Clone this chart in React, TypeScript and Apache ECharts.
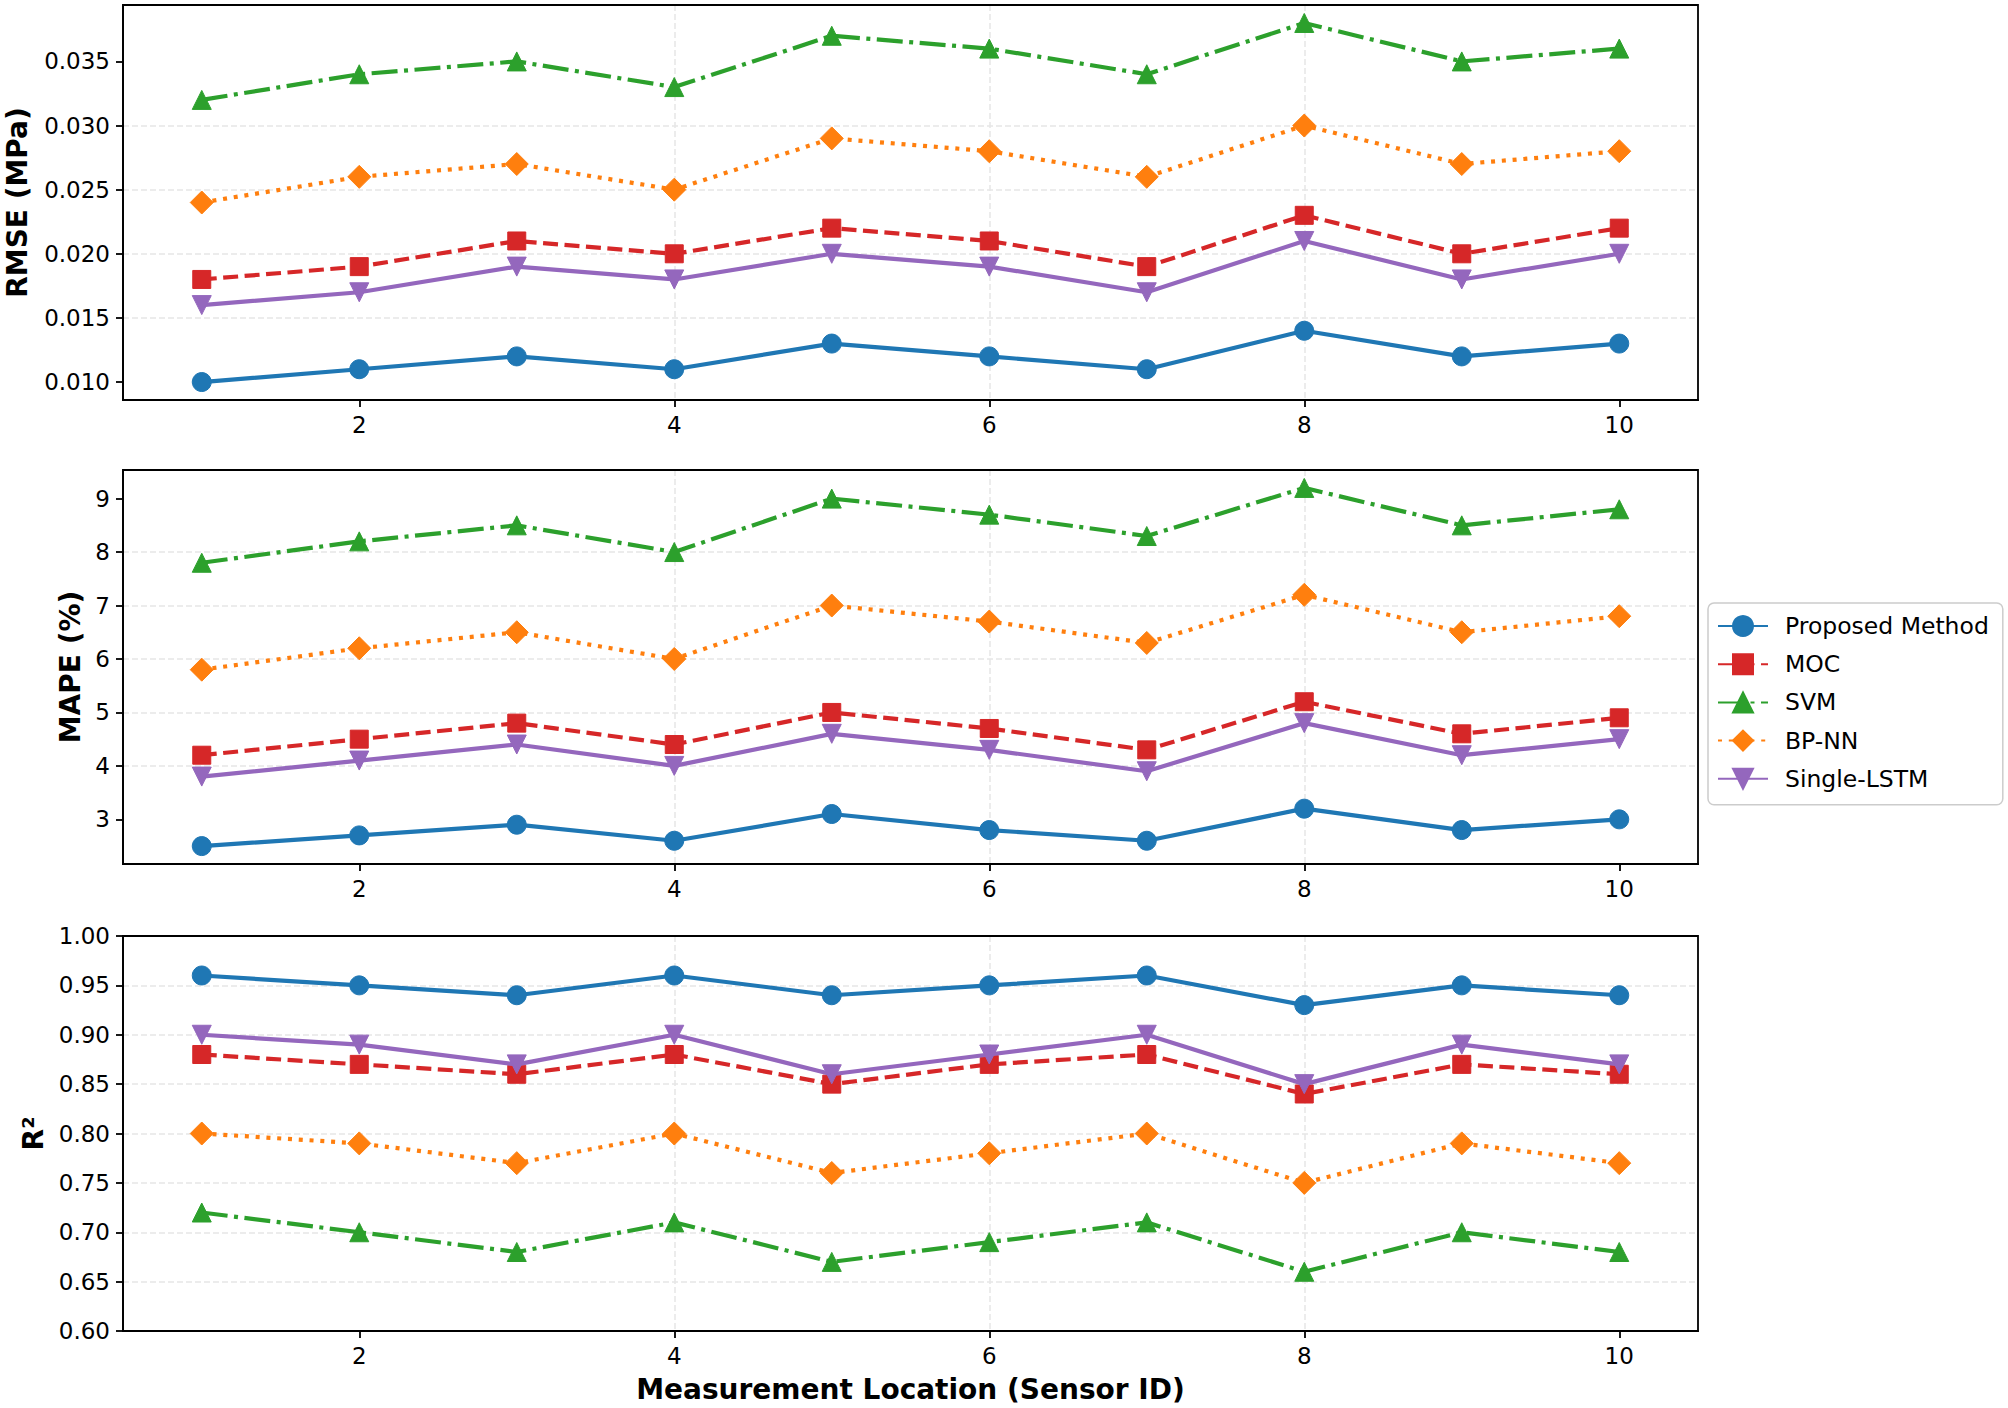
import React, { useEffect, useRef } from "react";
import * as echarts from "echarts";

const sensorIds = [1, 2, 3, 4, 5, 6, 7, 8, 9, 10];
const methods = ["Proposed Method", "MOC", "SVM", "BP-NN", "Single-LSTM"];

const rmseProposed = [0.010, 0.011, 0.012, 0.011, 0.013, 0.012, 0.011, 0.014, 0.012, 0.013];
const rmseMOC = [0.018, 0.019, 0.021, 0.020, 0.022, 0.021, 0.019, 0.023, 0.020, 0.022];
const rmseSVM = [0.032, 0.034, 0.035, 0.033, 0.037, 0.036, 0.034, 0.038, 0.035, 0.036];
const rmseBPNN = [0.024, 0.026, 0.027, 0.025, 0.029, 0.028, 0.026, 0.030, 0.027, 0.028];
const rmseLSTM = [0.016, 0.017, 0.019, 0.018, 0.020, 0.019, 0.017, 0.021, 0.018, 0.020];

const mapeProposed = [2.5, 2.7, 2.9, 2.6, 3.1, 2.8, 2.6, 3.2, 2.8, 3.0];
const mapeMOC = [4.2, 4.5, 4.8, 4.4, 5.0, 4.7, 4.3, 5.2, 4.6, 4.9];
const mapeSVM = [7.8, 8.2, 8.5, 8.0, 9.0, 8.7, 8.3, 9.2, 8.5, 8.8];
const mapeBPNN = [5.8, 6.2, 6.5, 6.0, 7.0, 6.7, 6.3, 7.2, 6.5, 6.8];
const mapeLSTM = [3.8, 4.1, 4.4, 4.0, 4.6, 4.3, 3.9, 4.8, 4.2, 4.5];

const r2Proposed = [0.96, 0.95, 0.94, 0.96, 0.94, 0.95, 0.96, 0.93, 0.95, 0.94];
const r2MOC = [0.88, 0.87, 0.86, 0.88, 0.85, 0.87, 0.88, 0.84, 0.87, 0.86];
const r2SVM = [0.72, 0.70, 0.68, 0.71, 0.67, 0.69, 0.71, 0.66, 0.70, 0.68];
const r2BPNN = [0.80, 0.79, 0.77, 0.80, 0.76, 0.78, 0.80, 0.75, 0.79, 0.77];
const r2LSTM = [0.90, 0.89, 0.87, 0.90, 0.86, 0.88, 0.90, 0.85, 0.89, 0.87];

const xTicks = [2, 4, 6, 8, 10];
const rmseTicks = [0.010, 0.015, 0.020, 0.025, 0.030, 0.035];
const mapeTicks = [3, 4, 5, 6, 7, 8, 9];
const r2Ticks = [0.60, 0.65, 0.70, 0.75, 0.80, 0.85, 0.90, 0.95, 1.00];

const FONT = "DejaVu Sans";

const seriesStyles = [
  { color: "#1f77b4", type: "solid", symbol: "circle", size: 19 },
  { color: "#d62728", type: [15, 6.5], symbol: "rect", size: 18 },
  { color: "#2ca02c", type: [26, 6.5, 4, 6.5], symbol: "triangle", size: 19 },
  { color: "#ff7f0e", type: [4, 6.8], symbol: "diamond", size: 23 },
  { color: "#9467bd", type: "solid", symbol: "path://M0,0L10,0L5,10Z", size: 19 },
];

const grids = [
  { left: 123, top: 5, width: 1575, height: 395 },
  { left: 123, top: 470, width: 1575, height: 394 },
  { left: 123, top: 936, width: 1575, height: 395 },
];

function makeXAxis(gridIndex: number, withName: boolean) {
  return {
    type: "value",
    gridIndex,
    min: 0.5,
    max: 10.5,
    name: withName ? "Measurement Location (Sensor ID)" : "",
    nameLocation: "middle",
    nameGap: 44,
    nameTextStyle: { fontSize: 28, fontWeight: "bold", color: "#000", fontFamily: FONT },
    axisLine: { show: true, onZero: false, lineStyle: { color: "#000", width: 1.8 } },
    axisTick: { show: true, length: 7, customValues: xTicks, lineStyle: { color: "#000", width: 1.8 } },
    axisLabel: { customValues: xTicks, margin: 13, fontSize: 23, color: "#000", fontFamily: FONT },
    splitLine: { show: true, showMinLine: false, showMaxLine: false, lineStyle: { color: "#e6e6e6", width: 1.5, type: [6, 3] } },
  };
}

function makeYAxis(gridIndex: number, name: string, nameGap: number, min: number, max: number, ticks: number[], digits: number) {
  return {
    type: "value",
    gridIndex,
    min,
    max,
    name,
    nameLocation: "middle",
    nameGap,
    nameTextStyle: { fontSize: 28, fontWeight: "bold", color: "#000", fontFamily: FONT },
    axisLine: { show: true, onZero: false, lineStyle: { color: "#000", width: 1.8 } },
    axisTick: { show: true, length: 7, customValues: ticks, lineStyle: { color: "#000", width: 1.8 } },
    axisLabel: {
      customValues: ticks,
      margin: 13,
      fontSize: 23,
      color: "#000",
      fontFamily: FONT,
      formatter: (v: number) => v.toFixed(digits),
    },
    splitLine: { show: true, showMinLine: false, showMaxLine: false, lineStyle: { color: "#e6e6e6", width: 1.5, type: [6, 3] } },
  };
}

function makeSeries(gridIndex: number, values: number[][]) {
  return values.map((vals, i) => {
    const st = seriesStyles[i];
    return {
      name: methods[i],
      type: "line",
      xAxisIndex: gridIndex,
      yAxisIndex: gridIndex,
      data: sensorIds.map((x, k) => [x, vals[k]]),
      symbol: st.symbol,
      symbolSize: st.size,
      showSymbol: true,
      lineStyle: { color: st.color, width: 4.2, type: st.type },
      itemStyle: { color: st.color, borderColor: st.color, borderWidth: 1 },
      z: 3 + i,
      silent: true,
    };
  });
}

export default function App() {
  const ref = useRef<HTMLDivElement>(null);
  useEffect(() => {
    document.body.style.margin = "0";
    const chart = echarts.init(ref.current!, null, { renderer: "svg" });
    const option = {
      animation: false,
      backgroundColor: "#ffffff",
      textStyle: { fontFamily: FONT },
      grid: grids.map((g) => ({
        ...g,
        show: true,
        z: 1,
        outerBoundsMode: "none",
        containLabel: false,
        borderColor: "#000",
        borderWidth: 1.8,
        backgroundColor: "transparent",
      })),
      xAxis: [makeXAxis(0, false), makeXAxis(1, false), makeXAxis(2, true)],
      yAxis: [
        makeYAxis(0, "RMSE (MPa)", 92, 0.0086, 0.0394, rmseTicks, 3),
        makeYAxis(1, "MAPE (%)", 38, 2.165, 9.535, mapeTicks, 0),
        makeYAxis(2, "R²", 74, 0.6, 1.0, r2Ticks, 2),
      ],
      legend: {
        orient: "vertical",
        left: 1708,
        top: 603,
        data: methods,
        itemWidth: 50,
        itemHeight: 25,
        itemGap: 14.2,
        padding: [11, 14, 14, 9],
        borderColor: "#cccccc",
        borderWidth: 1.5,
        borderRadius: 6,
        backgroundColor: "rgba(255,255,255,0.8)",
        textStyle: { fontSize: 23.5, color: "#000", fontFamily: FONT, padding: [0, 0, 0, 12] },
      },
      series: [
        ...makeSeries(0, [rmseProposed, rmseMOC, rmseSVM, rmseBPNN, rmseLSTM]),
        ...makeSeries(1, [mapeProposed, mapeMOC, mapeSVM, mapeBPNN, mapeLSTM]),
        ...makeSeries(2, [r2Proposed, r2MOC, r2SVM, r2BPNN, r2LSTM]),
      ],
    };
    chart.setOption(option as any);
    return () => chart.dispose();
  }, []);
  return (
    <div
      ref={ref}
      style={{ position: "absolute", left: 0, top: 0, width: 2008, height: 1408, background: "#fff" }}
    />
  );
}
